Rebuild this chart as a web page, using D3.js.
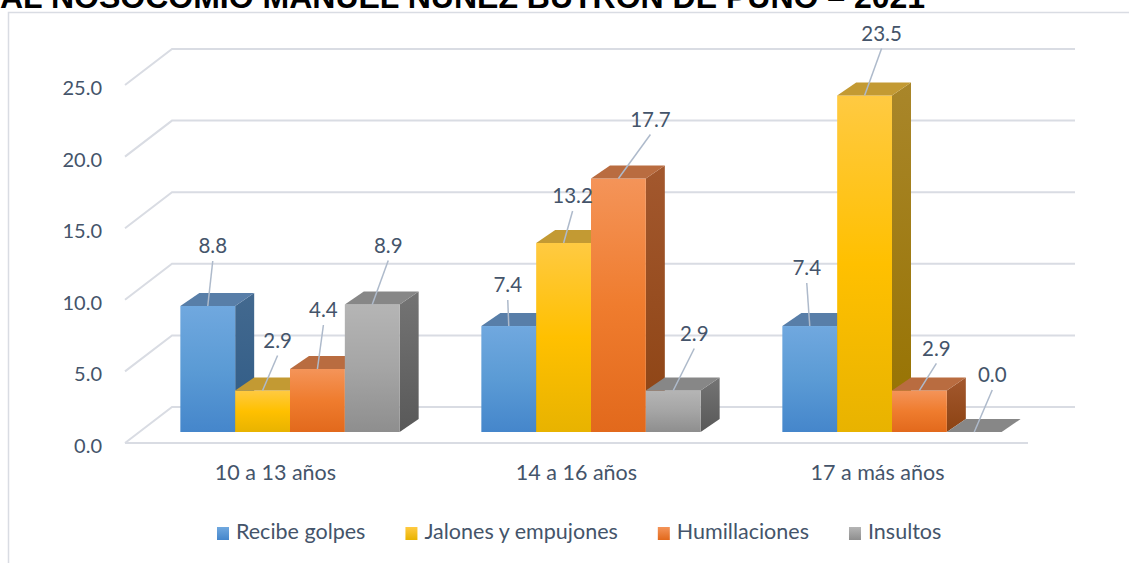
<!DOCTYPE html>
<html>
<head>
<meta charset="utf-8">
<script src="https://cdn.jsdelivr.net/npm/d3@7"></script>
<style>
  body { margin: 0; background: #fff; }
  svg { display: block; }
</style>
</head>
<body>
<div id="chart"></div>
<script>
// data
const categories = ["10 a 13 años", "14 a 16 años", "17 a más años"];
const seriesNames = ["Recibe golpes", "Jalones y empujones", "Humillaciones", "Insultos"];
const recibeGolpes = [8.8, 7.4, 7.4];
const jalonesEmpujones = [2.9, 13.2, 23.5];
const humillaciones = [4.4, 17.7, 2.9];
const insultos = [8.9, 2.9, 0.0];
const yTicks = [0, 5, 10, 15, 20, 25];
const titleText = "AL NOSOCOMIO MANUEL NÚÑEZ BUTRÓN DE PUNO – 2021";

const seriesValues = [recibeGolpes, jalonesEmpujones, humillaciones, insultos];

// label nudges (dx, dy from top-front centre of each bar), per category then series
const labelNudge = [
    [[5, -58], [15, -48], [6, -57], [16, -57]],
    [[-1, -39], [9, -45], [32, -57], [21, -55]],
    [[-3, -56], [17, -60], [17, -40], [18, -55]]
];

const W = 1129, H = 563;
const textColor = "#44546a";
const gridColor = "#d9dce3";
const font = "Lato, 'Noto Sans', sans-serif";

const svg = d3.select("#chart")
    .append("svg")
    .attr("width", W)
    .attr("height", H);

const defs = svg.append("defs");

// colours: front gradient stops, side gradient stops, top face
const looks = [
    { front: ["#70a8df", "#5b9bd5", "#4586cb"], side: ["#43698f", "#2f5b86"], top: "#587ea8" },
    { front: ["#ffca42", "#ffc000", "#e8b300"], side: ["#a9862a", "#967200"], top: "#c39a33" },
    { front: ["#f49459", "#ef7c2e", "#e2691c"], side: ["#a3582e", "#8c4313"], top: "#b96c40" },
    { front: ["#b5b5b5", "#a5a5a5", "#8e8e8e"], side: ["#747474", "#595959"], top: "#878787" }
];

looks.forEach(function (c, i) {
    let g = defs.append("linearGradient").attr("id", "front" + i)
        .attr("x1", 0).attr("y1", 0).attr("x2", 0).attr("y2", 1);
    g.append("stop").attr("offset", "0%").attr("stop-color", c.front[0]);
    g.append("stop").attr("offset", "50%").attr("stop-color", c.front[1]);
    g.append("stop").attr("offset", "100%").attr("stop-color", c.front[2]);

    let s = defs.append("linearGradient").attr("id", "side" + i)
        .attr("x1", 0).attr("y1", 0).attr("x2", 0).attr("y2", 1);
    s.append("stop").attr("offset", "0%").attr("stop-color", c.side[0]);
    s.append("stop").attr("offset", "100%").attr("stop-color", c.side[1]);

    let k = defs.append("linearGradient").attr("id", "key" + i)
        .attr("x1", 0).attr("y1", 0).attr("x2", 0).attr("y2", 1);
    k.append("stop").attr("offset", "0%").attr("stop-color", c.front[0]);
    k.append("stop").attr("offset", "100%").attr("stop-color", c.front[2]);
});

// title, cut off at the top of the picture
svg.append("text")
    .attr("x", 0)
    .attr("y", 8)
    .attr("font-family", "'Liberation Sans', Arial, sans-serif")
    .attr("font-weight", "bold")
    .attr("font-size", 32)
    .attr("fill", "#000")
    .text(titleText);

// chart frame
svg.append("path")
    .attr("d", "M8.5," + H + "V12.5H" + W)
    .attr("fill", "none")
    .attr("stroke", "#d9dce3")
    .attr("stroke-width", 1.5);

// 3D geometry
const wall = { dx: 47, dy: -36 };
const plane = { dx: 14.5, dy: -11 };
const depth = { dx: 19, dy: -13 };

const y = d3.scaleLinear().domain([0, 25]).range([443, 443 - 25 * 14.32]);
const x0 = d3.scaleBand().domain(categories).range([125, 1028]);
const x1 = d3.scaleBand().domain(seriesNames)
    .range([0, x0.bandwidth()])
    .paddingInner(0)
    .paddingOuter(0.745);

const line = d3.line();

// gridlines: side wall diagonal + back wall
const grid = svg.append("g");
yTicks.forEach(function (t) {
    grid.append("path")
        .attr("d", line([[125, y(t)], [125 + wall.dx, y(t) + wall.dy], [1028 + wall.dx, y(t) + wall.dy]]))
        .attr("fill", "none")
        .attr("stroke", gridColor)
        .attr("stroke-width", 2);
});
grid.append("path")
    .attr("d", line([[125, y(0)], [1028, y(0)]]))
    .attr("fill", "none")
    .attr("stroke", gridColor)
    .attr("stroke-width", 2);

// y tick labels
svg.append("g").selectAll("text")
    .data(yTicks)
    .join("text")
    .attr("x", 102)
    .attr("y", d => y(d) + 5)
    .attr("text-anchor", "end")
    .attr("dominant-baseline", "middle")
    .attr("font-family", font)
    .attr("font-size", 20)
    .attr("fill", textColor)
    .text(d => d3.format(".1f")(d));

// bars
const bars = svg.append("g");
const labels = [];
categories.forEach(function (cat, g) {
    seriesNames.forEach(function (name, s) {
        let v = seriesValues[s][g];
        let bx = x0(cat) + plane.dx + x1(name);
        let bw = x1.bandwidth();
        let yb = y(0) + plane.dy;
        let yt = y(v) + plane.dy;

        if (yb - yt > 0) {
            bars.append("path")
                .attr("d", line([[bx + bw, yt], [bx + bw + depth.dx, yt + depth.dy],
                    [bx + bw + depth.dx, yb + depth.dy], [bx + bw, yb]]) + "Z")
                .attr("fill", "url(#side" + s + ")");
            bars.append("rect")
                .attr("x", bx)
                .attr("y", yt)
                .attr("width", bw)
                .attr("height", yb - yt)
                .attr("fill", "url(#front" + s + ")");
        }
        bars.append("path")
            .attr("d", line([[bx, yt], [bx + bw, yt], [bx + bw + depth.dx, yt + depth.dy],
                [bx + depth.dx, yt + depth.dy]]) + "Z")
            .attr("fill", looks[s].top);

        let n = labelNudge[g][s];
        labels.push({ v: v, cx: bx + bw / 2, cy: yt, lx: bx + bw / 2 + n[0], ly: yt + n[1] });
    });
});

// data labels with leader lines
const lab = svg.append("g");
lab.selectAll("path")
    .data(labels)
    .join("path")
    .attr("d", d => line([[d.lx, d.ly + 13], [d.cx, d.cy]]))
    .attr("stroke", "#aebacb")
    .attr("stroke-width", 1.5)
    .attr("fill", "none");
lab.selectAll("text")
    .data(labels)
    .join("text")
    .attr("x", d => d.lx)
    .attr("y", d => d.ly)
    .attr("text-anchor", "middle")
    .attr("dominant-baseline", "middle")
    .attr("font-family", font)
    .attr("font-size", 20.5)
    .attr("fill", textColor)
    .text(d => d3.format(".1f")(d.v));

// category labels
svg.append("g").selectAll("text")
    .data(categories)
    .join("text")
    .attr("x", d => x0(d) + x0.bandwidth() / 2)
    .attr("y", 475)
    .attr("text-anchor", "middle")
    .attr("dominant-baseline", "middle")
    .attr("font-family", font)
    .attr("font-size", 21.5)
    .attr("fill", textColor)
    .text(d => d);

// legend
const legend = svg.append("g");
let lx = 217;
seriesNames.forEach(function (name, s) {
    legend.append("rect")
        .attr("x", lx)
        .attr("y", 527)
        .attr("width", 12)
        .attr("height", 13)
        .attr("fill", "url(#key" + s + ")");
    let t = legend.append("text")
        .attr("x", lx + 19)
        .attr("y", 534)
        .attr("dominant-baseline", "middle")
        .attr("font-family", font)
        .attr("font-size", 21.5)
        .attr("fill", textColor)
        .text(name);
    lx += 19 + t.node().getComputedTextLength() + 40;
});
</script>
</body>
</html>
